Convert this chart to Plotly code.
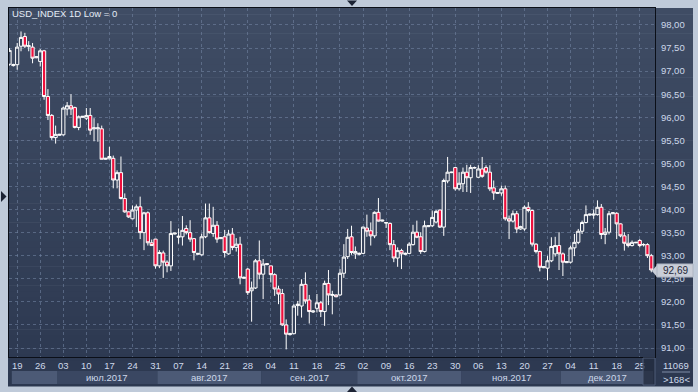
import plotly.graph_objects as go
import pandas as pd

# ---------------- data ----------------
OPEN = [97.15, 97.12, 97.14, 97.54, 97.75, 97.53, 97.52, 97.29, 97.21, 97.44,
        96.45, 96.04, 95.56, 95.61, 95.62, 96.18, 96.25, 96.21, 95.78, 96.00,
        95.98, 96.04, 95.75, 95.75, 95.75, 95.09, 95.10, 95.11, 94.64, 94.80,
        94.24, 93.95, 93.80, 93.99, 94.06, 93.50, 93.93, 93.28, 93.36, 92.78,
        93.06, 92.86, 92.78, 93.47, 93.40, 93.41, 93.59, 93.50, 93.37, 93.03,
        93.02, 93.41, 93.82, 93.48, 93.66, 93.37, 93.41, 93.04, 93.47, 93.18,
        93.25, 92.51, 92.71, 92.24, 92.30, 92.89, 92.60, 92.83, 92.78, 92.59,
        92.28, 92.18, 91.50, 91.29, 91.31, 91.92, 91.91, 92.38, 92.04, 91.78,
        91.86, 91.98, 91.79, 92.40, 92.14, 92.15, 92.15, 92.62, 92.98, 93.41,
        93.04, 93.03, 93.05, 93.60, 93.54, 93.43, 93.94, 93.75, 93.72, 93.70,
        93.24, 92.95, 93.11, 93.03, 93.05, 93.24, 93.51, 93.41, 93.09, 93.63,
        93.65, 93.73, 93.99, 93.62, 94.62, 94.80, 94.91, 94.45, 94.56, 94.81,
        94.69, 94.90, 94.70, 94.88, 94.91, 94.81, 94.47, 94.35, 94.36, 94.45,
        93.80, 93.75, 93.91, 93.58, 93.58, 94.05, 93.98, 93.25, 93.09, 92.74,
        92.73, 92.89, 93.04, 93.22, 93.04, 92.85, 92.86, 93.17, 93.29, 93.53,
        93.72, 93.88, 93.88, 93.89, 94.05, 93.46, 93.51, 93.91, 93.92, 93.69,
        93.43, 93.27, 93.22, 93.28, 93.33, 93.24, 93.24, 93.00]
HIGH = [97.50, 97.16, 97.61, 97.86, 97.83, 97.65, 97.61, 97.32, 97.48, 97.46,
        96.61, 96.07, 95.82, 95.64, 96.23, 96.33, 96.50, 96.23, 96.04, 96.02,
        96.20, 96.20, 95.98, 95.87, 95.82, 95.12, 95.36, 95.17, 94.85, 95.15,
        94.35, 93.96, 94.09, 94.11, 94.28, 93.95, 93.96, 93.35, 93.36, 93.12,
        93.11, 92.90, 93.75, 93.50, 93.59, 93.86, 93.66, 93.77, 93.38, 93.06,
        93.48, 94.13, 94.13, 94.06, 93.75, 93.40, 93.56, 93.56, 93.60, 93.38,
        93.41, 92.55, 92.73, 92.44, 92.93, 93.33, 92.93, 92.83, 92.78, 92.62,
        92.35, 92.28, 91.62, 91.33, 91.95, 92.02, 92.49, 92.64, 92.15, 91.82,
        92.17, 92.02, 92.46, 92.69, 92.24, 92.16, 92.71, 93.25, 93.58, 93.65,
        93.20, 93.07, 93.63, 93.89, 93.72, 93.96, 94.25, 93.78, 93.72, 93.72,
        93.34, 93.18, 93.15, 93.07, 93.29, 93.67, 93.76, 93.51, 93.76, 93.66,
        93.98, 93.99, 94.00, 94.67, 95.14, 94.82, 94.92, 94.81, 94.91, 94.97,
        94.97, 94.93, 94.96, 95.14, 94.96, 94.96, 94.63, 94.38, 94.52, 94.52,
        93.87, 93.98, 93.97, 93.65, 94.09, 94.16, 94.00, 93.27, 93.11, 92.77,
        93.00, 93.40, 93.41, 93.51, 93.07, 92.88, 93.22, 93.47, 93.58, 93.76,
        94.09, 93.91, 94.00, 94.20, 94.12, 93.60, 93.97, 93.94, 93.94, 93.70,
        93.51, 93.47, 93.33, 93.30, 93.36, 93.27, 93.27, 93.04]
LOW = [97.12, 97.10, 97.03, 97.43, 97.50, 97.43, 97.17, 97.28, 97.10, 96.38,
       95.94, 95.51, 95.43, 95.60, 95.60, 96.04, 96.05, 95.76, 95.72, 95.99,
       95.94, 95.62, 95.48, 95.47, 95.09, 95.08, 95.09, 94.46, 94.46, 94.22,
       93.93, 93.82, 93.79, 93.62, 93.36, 93.12, 93.22, 93.22, 92.72, 92.73,
       92.52, 92.64, 92.67, 93.46, 93.26, 93.22, 93.46, 93.30, 92.90, 93.02,
       93.00, 93.38, 93.48, 93.41, 93.28, 93.36, 92.96, 93.02, 93.12, 93.09,
       92.38, 92.50, 92.15, 91.57, 92.28, 92.49, 92.06, 92.79, 92.42, 92.13,
       91.95, 91.48, 90.97, 91.27, 91.30, 91.70, 91.66, 91.96, 91.53, 91.76,
       91.77, 91.67, 91.48, 91.93, 91.73, 92.10, 92.13, 92.52, 92.93, 93.02,
       92.93, 93.01, 93.04, 93.41, 93.22, 93.38, 93.74, 93.74, 93.60, 93.12,
       92.86, 92.76, 92.71, 93.01, 93.04, 93.22, 93.38, 93.04, 93.07, 93.62,
       93.62, 93.70, 93.60, 93.43, 94.57, 94.79, 94.41, 94.41, 94.38, 94.38,
       94.36, 94.89, 94.69, 94.69, 94.78, 94.40, 94.21, 94.34, 94.30, 93.76,
       93.36, 93.72, 93.49, 93.56, 93.54, 93.94, 93.20, 93.05, 92.66, 92.73,
       92.47, 92.86, 92.98, 92.69, 92.56, 92.84, 92.83, 92.99, 93.25, 93.47,
       93.70, 93.87, 93.80, 93.87, 93.36, 93.25, 93.46, 93.90, 93.36, 93.40,
       93.11, 93.18, 93.20, 93.27, 93.18, 93.20, 92.95, 92.64]
CLOSE = [97.45, 97.14, 97.52, 97.73, 97.54, 97.55, 97.28, 97.31, 97.44, 96.45,
         96.04, 95.56, 95.63, 95.63, 96.20, 96.25, 96.18, 95.78, 96.01, 96.02,
         96.04, 95.72, 95.77, 95.77, 95.09, 95.11, 95.15, 94.64, 94.80, 94.24,
         93.95, 93.84, 93.99, 94.06, 93.50, 93.93, 93.28, 93.22, 92.78, 93.07,
         92.86, 92.78, 93.48, 93.49, 93.42, 93.55, 93.50, 93.36, 93.07, 93.05,
         93.41, 93.82, 93.50, 93.66, 93.36, 93.39, 93.07, 93.47, 93.18, 93.25,
         92.52, 92.53, 92.20, 92.30, 92.89, 92.60, 92.82, 92.81, 92.59, 92.28,
         92.17, 91.50, 91.30, 91.31, 91.91, 91.95, 92.38, 92.02, 91.79, 91.80,
         91.98, 91.79, 92.40, 92.15, 92.16, 92.11, 92.62, 92.97, 93.40, 93.07,
         93.09, 93.05, 93.62, 93.53, 93.43, 93.94, 93.75, 93.77, 93.71, 93.24,
         92.95, 93.11, 93.04, 93.05, 93.25, 93.51, 93.40, 93.09, 93.65, 93.65,
         93.83, 93.96, 93.62, 94.63, 94.81, 94.81, 94.45, 94.57, 94.81, 94.69,
         94.91, 94.91, 94.88, 94.72, 94.81, 94.45, 94.36, 94.37, 94.45, 93.80,
         93.75, 93.91, 93.58, 93.63, 94.05, 93.98, 93.25, 93.09, 92.75, 92.76,
         92.89, 93.20, 93.22, 93.04, 92.86, 92.87, 93.17, 93.29, 93.53, 93.72,
         93.89, 93.90, 93.90, 94.05, 93.46, 93.51, 93.91, 93.93, 93.69, 93.43,
         93.27, 93.22, 93.29, 93.29, 93.22, 93.24, 93.00, 92.69]

# trading bars: Sunday..Friday sessions (no Saturday bars)
DATES = [d.strftime("%Y-%m-%d") for d in pd.date_range("2017-06-16", "2017-12-28")
         if d.dayofweek != 5]

TICK_DATES = ["2017-06-19", "2017-06-26", "2017-07-03", "2017-07-10", "2017-07-17",
              "2017-07-24", "2017-07-31", "2017-08-07", "2017-08-14", "2017-08-21",
              "2017-08-28", "2017-09-04", "2017-09-11", "2017-09-18", "2017-09-25",
              "2017-10-02", "2017-10-09", "2017-10-16", "2017-10-23", "2017-10-30",
              "2017-11-06", "2017-11-13", "2017-11-20", "2017-11-27", "2017-12-04",
              "2017-12-11", "2017-12-18", "2017-12-25"]
TICK_LABELS = ["19", "26", "03", "10", "17", "24", "31", "07", "14", "21", "28",
               "04", "11", "18", "25", "02", "09", "16", "23", "30", "06", "13",
               "20", "27", "04", "11", "18", "25"]
MONTHS = ["2017-06", "2017-07", "2017-08", "2017-09", "2017-10", "2017-11", "2017-12"]
MONTH_LABELS = ["", "июл.2017", "авг.2017", "сен.2017", "окт.2017", "ноя.2017", "дек.2017"]
Y_TICKS = [91.0, 91.5, 92.0, 92.5, 93.0, 93.5, 94.0, 94.5, 95.0, 95.5, 96.0, 96.5,
           97.0, 97.5, 98.0]
TITLE = "USD_INDEX 1D Low = 0"
LAST_PRICE = CLOSE[-1]
INFO_TOP = "11069"
INFO_BOTTOM = ">168<"

# ---------------- geometry helpers (pixels -> paper) ----------------
W, H = 698, 392
ML, MR, MT, MB = 9, 43, 8, 35
PW, PH = W - ML - MR, H - MT - MB


def px(x):
    return (x - ML) / PW


def py(y):
    return (H - MB - y) / PH


FONT = "Liberation Sans"
TXT = "#cdd8ea"

fig = go.Figure()
fig.add_trace(go.Candlestick(
    x=DATES, open=OPEN, high=HIGH, low=LOW, close=CLOSE,
    increasing=dict(line=dict(color="#ffffff", width=1), fillcolor="#36425b"),
    decreasing=dict(line=dict(color="#ffffff", width=1), fillcolor="#ee0f3c"),
    whiskerwidth=0, showlegend=False, hoverinfo="skip",
))

shapes = []
# vertical gradient background for the whole chart panel
top_c = (63, 76, 100)
bot_c = (44, 56, 80)
y_top, y_bot = 8, 386
N = 60
for i in range(N):
    t = i / (N - 1)
    c = tuple(round(top_c[k] + (bot_c[k] - top_c[k]) * t) for k in range(3))
    y0 = y_top + (y_bot - y_top) * i / N
    y1 = y_top + (y_bot - y_top) * (i + 1) / N + 0.5
    shapes.append(dict(type="rect", xref="paper", yref="paper", layer="below",
                       x0=px(8), x1=px(693), y0=py(y0), y1=py(y1),
                       fillcolor="rgb(%d,%d,%d)" % c, line=dict(width=0)))

# month bands under the date labels
month_of = [d[:7] for d in DATES]
starts = [month_of.index(m) for m in MONTHS]
ends = starts[1:] + [len(DATES)]
annotations = []
for k, (m, s, e) in enumerate(zip(MONTHS, starts, ends)):
    x0 = max(s - 0.5, 0.6)
    x1 = min(e - 0.5, 167.97)
    shade = "#4c5a76" if k % 2 == 0 else "#3a4762"
    shapes.append(dict(type="rect", xref="x", yref="paper", layer="above",
                       x0=x0, x1=x1, y0=py(384), y1=py(371),
                       fillcolor=shade, line=dict(width=0)))
    if MONTH_LABELS[k]:
        annotations.append(dict(x=(x0 + x1) / 2, y=py(377.5), xref="x", yref="paper",
                                text=MONTH_LABELS[k], showarrow=False,
                                font=dict(family=FONT, size=9.5, color=TXT),
                                xanchor="center", yanchor="middle"))

# scroll handle at right end of the time axis
shapes.append(dict(type="rect", xref="paper", yref="paper", layer="above",
                   x0=px(643), x1=px(655), y0=py(385), y1=py(358),
                   fillcolor="rgba(34,43,62,0.75)", line=dict(color="#4f5d78", width=1)))

# last price marker
shapes.append(dict(type="path", xref="paper", yref="paper", layer="above",
                   path="M %f %f L %f %f L %f %f Z" % (px(652), py(271), px(657), py(265),
                                                      px(657), py(277)),
                   fillcolor="#c9ced8", line=dict(width=0)))
shapes.append(dict(type="rect", xref="paper", yref="paper", layer="above",
                   x0=px(657), x1=px(693), y0=py(277), y1=py(264),
                   fillcolor="#c9ced8", line=dict(color="#aeb5c2", width=1)))
annotations.append(dict(x=px(675), y=LAST_PRICE, xref="paper", yref="y",
                        text=("%.2f" % LAST_PRICE).replace(".", ","), showarrow=False,
                        font=dict(family=FONT, size=10, color="#1f2637"),
                        xanchor="center", yanchor="middle"))

# info box bottom right
shapes.append(dict(type="line", xref="paper", yref="paper", layer="above",
                   x0=px(662), x1=px(690), y0=py(372), y1=py(372),
                   line=dict(color="#7e8ca6", width=1)))
annotations.append(dict(x=px(676), y=py(365), xref="paper", yref="paper", text=INFO_TOP,
                        showarrow=False, font=dict(family=FONT, size=9.5, color=TXT),
                        xanchor="center", yanchor="middle"))
annotations.append(dict(x=px(676), y=py(379), xref="paper", yref="paper", text=INFO_BOTTOM,
                        showarrow=False, font=dict(family=FONT, size=9.5, color=TXT),
                        xanchor="center", yanchor="middle"))

# title
annotations.append(dict(x=px(10), y=py(14), xref="paper", yref="paper", text=TITLE,
                        showarrow=False, font=dict(family=FONT, size=9.5, color="#e4ebf6"),
                        xanchor="left", yanchor="middle"))

# frame triangles
TRI = "#1c2334"
shapes.append(dict(type="path", xref="paper", yref="paper", layer="above",
                   path="M %f %f L %f %f L %f %f Z" % (px(347), py(0.5), px(357), py(0.5),
                                                      px(352), py(6)),
                   fillcolor=TRI, line=dict(width=0)))
shapes.append(dict(type="path", xref="paper", yref="paper", layer="above",
                   path="M %f %f L %f %f L %f %f Z" % (px(347), py(392), px(357), py(392),
                                                      px(352), py(386.5)),
                   fillcolor=TRI, line=dict(width=0)))
shapes.append(dict(type="path", xref="paper", yref="paper", layer="above",
                   path="M %f %f L %f %f L %f %f Z" % (px(1), py(191), px(1), py(202),
                                                      px(6.5), py(196.5)),
                   fillcolor=TRI, line=dict(width=0)))

GRID = "rgba(118,136,168,0.55)"
fig.update_layout(
    width=W, height=H,
    margin=dict(l=ML, r=MR, t=MT, b=MB, pad=0),
    paper_bgcolor="#bfcad9",
    plot_bgcolor="rgba(0,0,0,0)",
    separators=", ",
    boxgap=0.12, boxgroupgap=0.05,
    shapes=shapes,
    annotations=annotations,
    showlegend=False,
    xaxis=dict(
        type="category", range=[-0.13, 167.97], rangeslider=dict(visible=False),
        tickmode="array", tickvals=TICK_DATES, ticktext=TICK_LABELS,
        showgrid=True, gridcolor=GRID, griddash="3px,3px", gridwidth=1,
        showline=True, linecolor="#0b0f18", linewidth=1, mirror=True,
        ticks="", tickfont=dict(family=FONT, size=9.5, color=TXT),
        zeroline=False, fixedrange=True,
    ),
    yaxis=dict(
        side="right", range=[90.805, 98.368],
        tickmode="array", tickvals=Y_TICKS, tickformat=".2f",
        showgrid=True, gridcolor=GRID, griddash="3px,3px", gridwidth=1,
        showline=True, linecolor="#0b0f18", linewidth=1, mirror=True,
        ticks="outside", ticklen=3, tickcolor="rgba(0,0,0,0)",
        tickfont=dict(family=FONT, size=9.5, color=TXT),
        zeroline=False, fixedrange=True,
    ),
)

fig.write_html("out.html", config={"displayModeBar": False},
               post_script="document.body.style.margin='0';document.body.style.overflow='hidden';")
